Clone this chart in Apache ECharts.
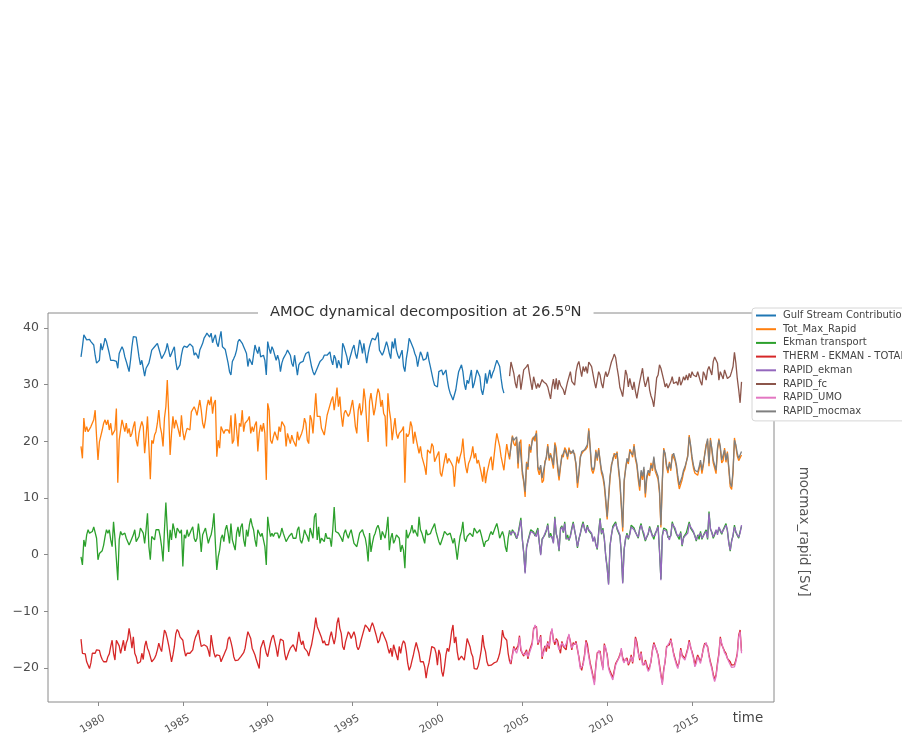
<!DOCTYPE html>
<html>
<head>
<meta charset="utf-8">
<title>AMOC dynamical decomposition at 26.5N</title>
<script src="https://cdn.jsdelivr.net/npm/echarts@6/dist/echarts.min.js"></script>
<style>
  html, body { margin: 0; padding: 0; background: #fff; }
  #chart { width: 902px; height: 738px; }
</style>
</head>
<body>
<div id="chart"></div>
<script>
// Monthly series. Model decomposition starts January 1979,
// RAPID array series start April 2004.
const HIST_START = 1979;
const RAPID_START = 2004 + 3 / 12;

const xTickYears = [1980, 1985, 1990, 1995, 2000, 2005, 2010, 2015];
const yTicks = [-20, -10, 0, 10, 20, 30, 40];

const seriesNames = [
  'Gulf Stream Contribution', 'Tot_Max_Rapid', 'Ekman transport',
  'THERM - EKMAN - TOTAL', 'RAPID_ekman', 'RAPID_fc', 'RAPID_UMO', 'RAPID_mocmax'
];

// Gulf Stream contribution, Jan 1979 - Dec 2003
const gulfStream = [
  34.9, 36.7, 38.8, 38.5, 37.9, 37.6, 38.0, 37.6, 37.4, 37.0, 35.2, 33.8,
  33.5, 34.3, 37.3, 36.1, 37.0, 38.2, 37.6, 37.3, 35.5, 34.3, 34.6, 34.3,
  34.6, 34.1, 32.9, 35.5, 36.1, 36.7, 36.1, 34.9, 34.1, 33.2, 32.3, 34.3,
  36.7, 38.5, 38.2, 38.4, 36.7, 34.9, 33.5, 34.3, 34.1, 31.5, 32.9, 33.2,
  33.8, 34.9, 36.1, 36.4, 36.7, 37.0, 37.3, 37.4, 35.5, 34.6, 34.3, 35.5,
  36.1, 37.3, 36.1, 34.9, 35.5, 36.1, 36.7, 34.1, 32.6, 32.3, 33.5, 35.2,
  36.4, 36.8, 37.0, 36.6, 36.4, 37.2, 37.4, 36.7, 35.2, 35.6, 35.2, 34.6,
  36.1, 36.7, 37.3, 38.2, 38.6, 39.1, 39.4, 38.4, 39.1, 37.4, 38.2, 38.8,
  37.3, 36.7, 38.2, 39.4, 36.7, 36.4, 36.2, 36.1, 33.8, 32.3, 31.7, 34.1,
  34.6, 35.2, 36.1, 37.6, 38.0, 38.2, 37.3, 36.7, 36.1, 35.5, 33.2, 34.6,
  34.1, 33.5, 33.2, 37.0, 36.1, 35.5, 36.7, 34.9, 35.1, 35.2, 34.3, 31.7,
  37.6, 36.4, 35.5, 36.7, 36.1, 35.2, 34.3, 35.2, 34.3, 32.3, 33.8, 34.6,
  34.6, 35.5, 36.1, 35.8, 35.2, 33.8, 33.2, 35.2, 33.5, 31.7, 33.5, 33.9,
  33.8, 34.1, 34.9, 35.5, 35.5, 35.8, 35.5, 33.2, 32.3, 31.7, 31.7, 32.9,
  33.5, 34.1, 34.3, 34.6, 35.2, 35.5, 35.2, 35.5, 35.8, 34.3, 33.5, 35.2,
  34.6, 32.9, 34.3, 34.6, 32.9, 37.3, 36.7, 35.8, 34.9, 33.5, 34.6, 35.5,
  36.4, 37.0, 35.5, 34.6, 36.1, 37.9, 37.0, 35.5, 37.3, 35.5, 33.8, 35.5,
  36.7, 37.6, 38.2, 38.4, 37.9, 38.2, 39.2, 36.1, 36.1, 35.2, 35.8, 36.7,
  37.6, 36.7, 35.5, 34.6, 37.6, 36.4, 38.2, 36.1, 35.2, 34.6, 34.3, 36.1,
  33.2, 32.3, 34.6, 36.1, 38.2, 37.6, 37.3, 36.4, 35.5, 34.9, 33.2, 34.6,
  35.8, 35.2, 34.3, 34.1, 34.6, 35.8, 34.3, 33.2, 32.0, 30.8, 29.9, 29.9,
  29.6, 32.3, 32.5, 32.6, 31.7, 31.4, 32.6, 30.8, 29.4, 28.5, 27.9, 27.3,
  27.0, 29.1, 30.8, 32.3, 32.9, 33.5, 32.3, 30.2, 29.1, 30.8, 30.2, 29.9,
  32.6, 29.4, 30.2, 31.4, 32.6, 32.9, 31.4, 29.1, 28.2, 29.6, 32.0, 30.2,
  31.4, 32.6, 31.1, 32.0, 32.6, 33.5, 34.3, 34.6, 33.2, 31.1, 29.4, 28.5
];

// Total maximum overturning, Jan 1979 - Dec 2017
const totMaxRapid = [
  19.1, 17.0, 24.1, 21.7, 22.6, 21.7, 22.0, 22.6, 22.7, 23.8, 25.5, 20.8,
  16.7, 19.9, 19.6, 22.0, 23.2, 23.8, 22.9, 23.8, 22.0, 23.2, 21.1, 21.4,
  22.0, 25.8, 12.7, 20.2, 22.0, 23.8, 24.1, 21.7, 23.2, 21.4, 22.3, 20.8,
  21.4, 22.6, 23.5, 20.2, 19.1, 21.4, 22.6, 23.5, 22.6, 17.9, 20.8, 24.4,
  19.1, 13.3, 20.2, 19.6, 21.1, 21.7, 23.2, 25.5, 22.6, 21.4, 19.1, 24.1,
  26.1, 30.8, 24.9, 17.6, 21.4, 24.4, 22.3, 23.8, 22.9, 22.6, 20.8, 24.6,
  21.7, 20.2, 21.4, 22.3, 22.3, 22.0, 25.2, 24.9, 26.1, 25.5, 24.6, 24.6,
  27.3, 25.5, 23.2, 22.3, 23.8, 26.1, 27.3, 26.4, 27.9, 24.9, 26.7, 27.3,
  17.3, 20.2, 18.8, 22.6, 22.0, 21.4, 22.0, 22.3, 22.0, 21.4, 24.6, 19.6,
  20.2, 24.9, 22.0, 19.1, 23.2, 22.6, 25.5, 21.7, 23.2, 22.9, 23.8, 24.4,
  21.4, 22.6, 21.7, 22.9, 23.5, 18.2, 21.4, 22.9, 21.7, 23.2, 21.4, 13.2,
  26.7, 25.5, 20.2, 19.6, 20.8, 21.7, 22.0, 20.2, 22.6, 21.7, 23.5, 23.2,
  22.6, 19.1, 21.4, 21.7, 19.6, 21.1, 20.2, 19.9, 19.1, 21.7, 20.2, 20.8,
  21.4, 22.3, 24.1, 23.2, 20.2, 19.6, 24.6, 23.8, 21.4, 21.4, 28.5, 24.4,
  24.6, 24.4, 22.3, 22.0, 21.1, 21.4, 24.6, 25.5, 26.4, 27.3, 27.9, 25.5,
  27.3, 29.5, 26.1, 27.9, 24.6, 22.6, 24.9, 25.5, 25.8, 24.4, 24.9, 24.9,
  27.3, 25.2, 22.6, 21.4, 25.5, 26.7, 24.6, 25.5, 29.3, 27.3, 23.2, 19.9,
  27.0, 28.5, 26.7, 24.6, 25.8, 27.9, 29.3, 28.5, 26.1, 27.3, 24.9, 24.4,
  19.1, 28.5, 25.5, 23.8, 20.2, 22.3, 24.1, 21.4, 20.5, 21.4, 21.7, 22.0,
  22.6, 12.7, 21.4, 20.8, 21.4, 23.5, 22.6, 19.6, 21.7, 21.4, 19.1, 17.9,
  19.1, 17.3, 17.6, 15.5, 14.1, 18.5, 18.2, 17.9, 19.6, 19.1, 16.4, 17.0,
  17.3, 18.2, 14.4, 13.8, 13.5, 16.7, 17.9, 16.1, 17.0, 17.3, 16.1, 15.5,
  12.0, 15.5, 17.3, 16.1, 17.3, 18.2, 20.5, 17.3, 15.5, 14.4, 16.1, 16.7,
  17.6, 19.1, 17.0, 17.9, 16.1, 16.7, 17.0, 14.4, 12.9, 15.5, 12.6, 14.4,
  15.5, 16.7, 17.3, 14.9, 17.3, 19.6, 21.4, 20.2, 19.1, 17.3, 16.1, 14.9,
  17.3, 19.5, 18.0, 16.8, 19.3, 21.0, 19.6, 19.2, 20.5, 15.2, 19.6, 20.3,
  14.2, 12.8, 10.2, 16.4, 15.0, 19.5, 18.0, 20.4, 20.8, 20.0, 21.9, 15.0,
  14.1, 15.5, 12.7, 13.1, 16.5, 17.0, 19.5, 16.6, 17.9, 16.5, 15.2, 19.8,
  18.8, 15.0, 13.1, 15.4, 17.6, 17.2, 18.9, 18.4, 16.8, 18.9, 17.8, 18.2,
  18.1, 17.8, 15.5, 11.8, 14.0, 17.3, 17.8, 18.2, 18.1, 18.6, 19.0, 22.3,
  18.7, 15.0, 14.3, 15.2, 18.5, 16.6, 18.8, 16.3, 14.4, 13.6, 12.0, 9.2,
  6.2, 9.8, 13.3, 15.9, 16.6, 17.9, 16.9, 18.2, 15.0, 12.6, 8.5, 4.1,
  12.6, 15.3, 16.6, 16.0, 18.6, 18.1, 17.2, 19.5, 16.8, 15.7, 13.2, 11.3,
  14.5, 13.2, 15.1, 10.1, 13.4, 14.5, 13.9, 16.2, 14.8, 17.0, 14.7, 14.5,
  13.3, 10.9, 4.8, 12.7, 18.8, 17.5, 15.4, 14.4, 16.4, 14.8, 17.7, 17.5,
  16.6, 15.3, 13.1, 11.6, 11.3, 13.2, 14.5, 15.1, 14.8, 17.6, 21.1, 19.0,
  16.8, 15.3, 14.4, 14.2, 14.0, 15.1, 16.3, 14.3, 15.7, 17.9, 19.5, 20.1,
  15.6, 20.6, 18.4, 16.2, 15.3, 14.3, 18.4, 20.5, 18.7, 16.2, 16.6, 18.8,
  16.3, 18.2, 15.0, 12.0, 11.5, 14.4, 20.6, 19.0, 17.4, 16.6, 16.8, 17.6
];

// Ekman transport, Jan 1979 - Dec 2017
const ekmanTransport = [
  -0.4, -1.8, 2.6, 1.4, 3.5, 4.4, 3.8, 3.6, 4.1, 4.9, 5.2, 2.9,
  -0.9, 0.2, 0.5, 0.7, 1.7, 3.2, 4.4, 3.8, 4.4, 2.6, 1.4, 5.8,
  2.9, 2.6, -4.5, 2.6, 4.1, 3.5, 3.2, 3.8, 2.9, 2.9, 1.7, 2.3,
  2.9, 3.5, 4.4, 2.3, 2.0, 3.2, 4.7, 4.9, 3.8, 2.0, 4.4, 7.3,
  1.4, -0.9, 3.2, 3.5, 2.6, 4.4, 4.1, 4.4, 3.2, 1.4, -1.2, 4.4,
  9.2, 4.4, 0.5, 4.4, 2.6, 5.5, 4.4, 2.9, 4.7, 4.4, 3.8, 4.4,
  -2.1, 3.5, 2.9, 4.4, 3.2, 3.8, 4.4, 4.9, 2.9, 2.3, 2.9, 5.5,
  3.5, 0.5, 3.5, 3.8, 4.7, 4.4, 2.0, 2.9, 3.5, 4.9, 7.3, 2.0,
  -2.7, -0.4, 0.8, 2.9, 3.5, 2.3, 4.4, 5.2, 3.8, 2.0, 5.5, 2.6,
  1.7, 0.8, 3.8, 4.9, 3.2, 4.9, 5.5, 2.6, 1.4, 4.4, 3.2, 5.2,
  6.4, 5.2, 4.4, 2.6, 1.4, 4.4, 4.7, 3.2, 3.8, 3.5, 1.4, -1.8,
  6.7, 4.7, 3.2, 3.8, 3.2, 3.8, 4.1, 3.8, 2.9, 3.5, 4.7, 3.8,
  4.1, 2.3, 2.6, 3.2, 3.5, 3.8, 2.9, 2.6, 2.9, 4.4, 4.9, 2.6,
  2.0, 2.9, 4.4, 3.7, 3.2, 2.3, 4.7, 4.4, 2.9, 6.7, 7.3, 2.6,
  4.9, 2.0, 2.9, 3.2, 2.3, 3.8, 2.9, 3.1, 2.9, 1.4, 4.4, 8.4,
  4.1, 4.4, 3.8, 4.1, 2.9, 2.3, 3.8, 4.4, 3.5, 2.9, 3.8, 4.4,
  4.1, 2.0, 1.7, 1.4, 1.4, 3.8, 4.1, 4.4, 3.5, 2.9, 1.4, -1.2,
  3.8, 0.5, 2.0, 3.2, 3.8, 4.7, 5.2, 4.4, 2.6, 4.1, 3.5, 2.9,
  4.4, 6.7, 0.8, 2.9, 3.8, 2.0, 2.6, 3.5, 3.8, 2.9, 0.5, 1.7,
  0.8, -2.4, 4.4, 2.9, 3.5, 4.1, 5.2, 3.8, 4.4, 3.8, 3.2, 6.7,
  4.4, 3.8, 2.9, 2.0, 4.4, 3.5, 3.2, 3.7, 4.4, 4.9, 5.5, 4.1,
  3.8, 2.3, 1.7, 1.4, 3.2, 4.1, 3.8, 3.5, 3.2, 3.8, 2.9, 2.0,
  2.9, 1.1, -0.9, 1.4, 3.2, 4.1, 5.8, 2.9, 2.3, 3.2, 3.5, 3.8,
  4.1, 3.2, 4.7, 4.9, 3.8, 3.5, 4.4, 3.5, 3.2, 1.4, 2.3, 2.0,
  2.6, 3.5, 4.1, 3.5, 3.2, 4.9, 5.5, 4.4, 2.9, 3.5, 4.1, 3.2,
  1.4, 0.5, 2.9, 4.3, 3.4, 4.4, 4.0, 4.1, 2.8, 3.7, 3.6, 6.5,
  2.7, 0.4, -3.1, 1.2, 2.5, 2.4, 4.4, 4.2, 4.0, 3.3, 3.5, 4.7,
  2.1, 0.1, 2.8, 3.0, 3.5, 4.2, 5.5, 3.0, 3.8, 3.0, 2.2, 6.7,
  3.6, 2.8, 0.6, 4.7, 5.1, 3.9, 5.8, 2.7, 3.5, 2.5, 3.4, 4.7,
  5.8, 4.2, 3.1, 1.2, 2.8, 3.6, 5.0, 5.8, 4.5, 4.0, 5.2, 4.2,
  4.4, 3.6, 2.5, 3.0, 1.9, 0.9, 4.1, 6.4, 3.6, 4.7, 2.7, -0.2,
  -2.2, -5.1, 1.6, 3.3, 5.0, 4.7, 5.8, 4.5, 4.7, 3.3, 0.4, -4.9,
  1.0, 2.7, 3.8, 2.7, 3.8, 5.2, 5.0, 4.7, 4.0, 3.7, 2.9, 4.7,
  5.5, 4.2, 4.0, 2.4, 3.1, 3.6, 5.0, 4.2, 3.4, 2.7, 3.8, 4.2,
  5.2, 0.6, -4.3, 3.4, 4.7, 4.5, 4.4, 3.0, 2.8, 3.3, 5.8, 5.0,
  5.0, 3.6, 3.4, 2.7, 4.1, 1.5, 3.1, 3.1, 3.9, 3.6, 5.8, 4.7,
  4.8, 3.9, 3.4, 2.4, 3.5, 2.7, 4.1, 2.7, 3.4, 3.5, 4.4, 2.7,
  7.6, 4.5, 4.0, 2.9, 3.5, 4.2, 3.8, 4.7, 5.0, 3.6, 4.4, 4.5,
  5.5, 4.2, 2.2, 0.6, 2.5, 3.3, 5.2, 3.9, 3.8, 2.9, 4.1, 5.0
];

// Thermal wind minus Ekman minus total, Jan 1979 - Dec 2017
const thermEkmanTotal = [
  -14.9, -17.4, -17.7, -17.5, -18.9, -19.2, -20.1, -19.1, -17.4, -17.3, -17.4, -16.8,
  -16.5, -16.9, -17.9, -18.5, -18.9, -19.1, -18.9, -18.0, -17.5, -16.2, -15.1, -17.4,
  -18.6, -15.1, -15.4, -16.1, -17.4, -17.7, -15.1, -17.0, -15.6, -14.9, -13.0, -14.5,
  -16.5, -14.5, -17.4, -18.0, -19.2, -19.5, -18.9, -17.4, -18.5, -16.2, -15.2, -16.5,
  -17.1, -18.0, -18.9, -19.2, -18.3, -17.7, -16.8, -15.6, -16.5, -17.1, -15.1, -13.3,
  -13.8, -14.8, -16.0, -17.4, -18.9, -17.7, -16.2, -14.0, -13.2, -13.6, -14.5, -14.3,
  -15.1, -16.8, -17.9, -17.4, -17.1, -17.4, -17.4, -16.8, -15.4, -14.5, -14.0, -13.3,
  -14.9, -16.2, -16.5, -15.9, -15.9, -16.2, -16.9, -18.0, -14.2, -15.9, -17.3, -18.1,
  -17.7, -17.4, -17.8, -18.9, -18.3, -17.7, -17.1, -16.5, -14.9, -14.5, -15.4, -16.5,
  -18.0, -18.7, -18.9, -18.6, -18.3, -18.0, -17.9, -17.3, -16.5, -14.9, -13.6, -13.3,
  -14.8, -16.5, -17.1, -17.7, -18.6, -18.9, -20.1, -16.5, -15.8, -15.1, -15.1, -17.4,
  -18.0, -16.7, -15.5, -14.6, -14.2, -13.9, -16.5, -18.0, -16.2, -14.9, -14.8, -15.2,
  -17.4, -18.6, -18.3, -17.1, -16.5, -16.5, -15.9, -16.5, -17.1, -15.4, -13.6, -15.1,
  -15.9, -15.2, -16.5, -16.2, -17.1, -17.9, -16.8, -15.9, -14.5, -13.0, -11.1, -12.7,
  -13.3, -13.0, -14.6, -15.6, -15.2, -15.9, -16.2, -15.9, -14.5, -13.6, -14.8, -15.8,
  -14.5, -12.1, -11.1, -13.0, -13.9, -16.2, -16.8, -15.4, -14.5, -13.6, -14.0, -14.8,
  -15.1, -13.6, -14.5, -16.2, -16.8, -16.2, -15.1, -14.2, -13.3, -12.4, -12.2, -13.0,
  -13.6, -12.7, -12.0, -12.7, -13.6, -14.5, -15.6, -15.1, -14.0, -13.6, -14.2, -14.8,
  -15.4, -16.5, -17.4, -16.5, -18.0, -15.9, -16.2, -17.7, -18.6, -16.2, -17.4, -15.9,
  -15.2, -15.6, -17.1, -19.2, -20.4, -19.8, -18.7, -17.7, -16.5, -15.5, -15.4, -17.4,
  -18.9, -19.2, -18.9, -19.8, -21.8, -20.1, -19.1, -17.7, -16.2, -15.9, -16.5, -17.4,
  -19.5, -16.8, -17.7, -20.6, -21.5, -19.8, -17.7, -16.5, -17.1, -15.6, -13.6, -12.4,
  -15.6, -14.5, -17.1, -18.6, -18.3, -17.9, -18.0, -18.6, -16.8, -14.8, -15.5, -16.2,
  -17.4, -18.0, -20.1, -19.8, -20.2, -19.5, -18.3, -16.8, -14.2, -16.2, -17.1, -18.9,
  -19.6, -19.3, -19.5, -19.8, -19.1, -19.3, -18.9, -18.3, -17.4, -15.9, -13.3, -14.5,
  -14.2, -15.1, -17.4, -18.8, -19.3, -17.6, -16.2, -16.9, -17.0, -16.1, -14.3, -16.9,
  -17.0, -17.9, -17.3, -16.8, -18.4, -17.0, -17.3, -15.5, -13.0, -12.8, -12.7, -15.9,
  -15.2, -14.2, -18.4, -17.0, -16.1, -17.1, -15.3, -16.6, -13.9, -13.3, -15.0, -15.9,
  -14.8, -15.2, -16.4, -17.4, -15.3, -16.2, -15.9, -16.8, -14.8, -14.3, -15.3, -16.8,
  -15.5, -15.9, -15.3, -16.8, -18.0, -19.7, -20.4, -19.1, -17.7, -15.1, -15.8, -17.6,
  -19.1, -20.2, -21.4, -22.5, -19.5, -17.3, -17.2, -17.0, -18.9, -20.0, -15.7, -16.7,
  -17.6, -19.8, -20.5, -21.1, -21.7, -21.8, -19.2, -19.2, -18.3, -17.6, -16.8, -18.2,
  -18.8, -18.6, -18.2, -19.5, -18.9, -17.7, -19.2, -17.3, -14.5, -15.4, -17.1, -18.6,
  -17.1, -19.1, -19.5, -18.6, -19.4, -20.3, -19.8, -18.9, -16.8, -15.5, -16.2, -16.5,
  -17.7, -19.4, -21.1, -22.6, -20.2, -18.9, -16.2, -16.2, -15.9, -14.8, -16.2, -17.4,
  -18.3, -19.1, -19.8, -18.9, -16.5, -17.7, -18.0, -18.3, -18.6, -16.5, -15.1, -16.4,
  -17.1, -18.0, -19.4, -19.5, -17.7, -18.3, -18.8, -18.0, -16.5, -15.6, -15.8, -16.2,
  -17.7, -18.9, -19.8, -21.1, -22.0, -21.2, -19.1, -17.4, -14.5, -15.9, -16.2, -17.0,
  -17.4, -18.3, -18.6, -18.9, -19.5, -19.8, -19.4, -18.6, -17.4, -14.2, -13.3, -17.0
];

// RAPID array, Apr 2004 - Dec 2017
const rapidEkman = [
  4.1, 3.5, 4.1, 4.1, 3.8, 2.9, 3.5, 3.8, 6.1,
  2.9, 0.2, -3.3, 1.4, 2.3, 2.6, 4.1, 4.4, 3.8, 3.5, 3.2, 4.4,
  2.3, -0.1, 2.6, 3.1, 3.2, 4.4, 5.2, 3.2, 3.5, 3.2, 2.0, 6.4,
  3.8, 2.6, 0.8, 4.4, 4.9, 4.1, 5.5, 2.9, 3.2, 2.7, 3.2, 4.4,
  5.5, 4.4, 2.9, 1.4, 2.6, 3.8, 4.7, 5.5, 4.7, 3.8, 4.9, 4.4,
  4.1, 3.8, 2.3, 3.2, 1.7, 1.1, 3.8, 6.1, 3.8, 4.4, 2.9, -0.4,
  -2.4, -5.3, 1.4, 3.5, 4.7, 4.9, 5.5, 4.7, 4.4, 3.5, 0.2, -5.1,
  0.8, 2.9, 3.5, 2.9, 3.5, 4.9, 5.2, 4.4, 4.2, 3.5, 3.1, 4.4,
  5.2, 4.4, 3.8, 2.6, 2.9, 3.8, 4.7, 4.4, 3.2, 2.9, 3.5, 4.4,
  4.9, 0.8, -4.5, 3.2, 4.4, 4.7, 4.1, 3.2, 2.6, 3.5, 5.5, 5.2,
  4.7, 3.8, 3.2, 2.9, 3.8, 1.7, 2.9, 3.3, 3.6, 3.8, 5.5, 4.9,
  4.5, 4.1, 3.2, 2.6, 3.2, 2.9, 3.8, 2.9, 3.2, 3.7, 4.1, 2.9,
  7.3, 4.7, 3.8, 3.1, 3.2, 4.4, 3.5, 4.9, 4.7, 3.8, 4.1, 4.7,
  5.2, 4.4, 2.0, 0.8, 2.3, 3.5, 4.9, 4.1, 3.5, 3.1, 3.8, 5.2
];

const rapidFc = [
  31.5, 34.0, 34.2, 32.0, 30.3, 29.4, 31.4, 31.8, 29.1,
  30.8, 32.6, 32.9, 33.2, 33.6, 32.0, 30.5, 29.1, 31.4, 31.2, 29.3, 30.2,
  29.5, 30.2, 30.9, 30.5, 30.6, 30.1, 29.6, 28.5, 27.5, 29.6, 31.0, 29.2,
  31.1, 29.1, 30.8, 29.9, 30.0, 29.1, 28.2, 29.4, 30.5, 30.8, 32.3, 30.6,
  30.5, 29.9, 32.3, 33.5, 34.1, 34.4, 31.4, 33.2, 32.3, 33.2, 32.0, 34.0,
  34.1, 33.2, 33.5, 30.5, 29.4, 30.8, 32.3, 31.7, 30.2, 29.4, 31.2, 32.3,
  31.4, 32.0, 33.0, 34.0, 34.6, 35.4, 34.8, 33.0, 31.5, 29.5, 28.8, 27.9,
  30.2, 32.6, 31.7, 29.6, 31.1, 29.9, 29.1, 30.5, 28.8, 27.6, 29.1, 30.5,
  31.7, 32.9, 30.8, 29.6, 29.9, 31.4, 29.1, 28.0, 27.3, 26.1, 28.5, 31.2,
  31.7, 33.5, 32.9, 33.2, 30.8, 29.6, 30.2, 29.4, 29.1, 30.5, 31.4, 30.2,
  29.9, 30.5, 29.9, 31.4, 29.9, 30.5, 31.4, 30.8, 31.7, 30.8, 32.0, 31.2,
  32.3, 31.7, 32.0, 31.4, 32.3, 31.4, 30.5, 29.9, 32.3, 31.7, 30.8, 32.6,
  33.2, 33.5, 31.7, 34.1, 34.9, 34.6, 33.8, 30.8, 32.3, 32.0, 31.0, 32.6,
  32.6, 31.1, 31.1, 31.5, 32.3, 33.2, 35.7, 33.8, 31.1, 29.1, 26.8, 30.5
];

const rapidUmo = [
  -19.2, -18.9, -18.0, -16.5, -16.5, -17.4, -16.5, -14.6, -16.5,
  -17.4, -17.5, -17.7, -17.1, -18.0, -17.4, -17.7, -15.9, -13.3, -12.4, -13.0, -15.6,
  -15.6, -14.5, -18.0, -17.4, -16.5, -16.8, -15.6, -16.2, -14.2, -13.0, -15.4, -15.6,
  -15.1, -14.9, -16.8, -17.1, -15.6, -15.9, -16.3, -16.5, -15.1, -14.0, -15.6, -16.5,
  -15.9, -15.6, -15.6, -16.5, -18.3, -20.1, -20.1, -19.5, -18.0, -15.4, -15.4, -18.0,
  -19.5, -20.6, -21.8, -23.0, -19.8, -17.7, -16.9, -17.4, -18.6, -20.4, -16.0, -16.4,
  -18.0, -20.1, -20.9, -20.8, -22.1, -22.1, -19.5, -18.9, -18.6, -17.9, -16.5, -18.6,
  -19.1, -18.3, -18.6, -19.2, -19.2, -18.0, -18.9, -17.7, -14.8, -15.1, -17.4, -18.3,
  -17.4, -19.5, -19.2, -18.9, -19.8, -20.6, -20.2, -18.6, -17.1, -15.8, -15.9, -16.8,
  -18.0, -19.8, -21.5, -23.0, -20.6, -18.6, -16.5, -15.9, -16.2, -15.1, -15.9, -17.7,
  -18.6, -19.5, -20.1, -18.6, -16.8, -18.0, -17.7, -18.6, -18.3, -16.8, -15.4, -16.1,
  -17.4, -18.3, -19.8, -19.2, -18.0, -18.6, -19.2, -17.7, -16.8, -15.9, -15.5, -16.5,
  -18.0, -19.2, -20.1, -21.5, -22.4, -21.5, -19.5, -17.7, -14.8, -15.6, -16.5, -17.3,
  -17.7, -18.0, -18.9, -19.2, -19.9, -20.2, -19.8, -18.9, -17.7, -14.5, -13.6, -17.4
];

const rapidMocmax = [
  17.3, 19.0, 20.8, 20.2, 19.9, 20.8, 16.1, 19.9, 19.9,
  14.9, 13.2, 11.1, 16.1, 15.5, 19.1, 18.5, 20.0, 20.5, 20.5, 21.4, 15.5,
  14.9, 15.8, 13.5, 13.8, 16.1, 17.3, 19.1, 17.0, 17.6, 17.0, 15.8, 19.4,
  19.1, 15.8, 13.8, 15.8, 17.3, 17.6, 18.5, 18.8, 17.3, 18.5, 18.2, 17.9,
  18.5, 18.2, 16.1, 12.6, 14.4, 17.0, 18.2, 17.9, 18.5, 18.2, 19.4, 21.9,
  19.1, 15.5, 14.9, 15.5, 18.2, 17.0, 18.5, 16.7, 14.9, 14.1, 12.6, 9.9,
  6.7, 10.2, 13.8, 15.5, 17.0, 17.6, 17.3, 17.9, 15.5, 13.2, 9.0, 4.8,
  13.2, 14.9, 17.0, 16.4, 18.2, 18.5, 17.6, 19.1, 17.3, 16.1, 13.8, 12.0,
  14.9, 13.8, 15.5, 10.8, 13.8, 14.9, 14.4, 15.8, 15.2, 17.3, 15.2, 14.9,
  13.8, 11.4, 5.2, 13.2, 18.5, 17.9, 15.8, 14.9, 16.1, 15.2, 17.3, 17.9,
  17.0, 15.8, 13.8, 12.3, 12.0, 13.8, 14.9, 15.5, 15.2, 17.3, 20.8, 19.4,
  17.3, 15.8, 14.9, 14.9, 14.6, 15.5, 16.7, 14.9, 16.1, 17.6, 19.1, 20.5,
  16.1, 20.2, 18.8, 16.7, 15.8, 14.9, 18.8, 20.2, 19.1, 16.7, 17.0, 18.5,
  16.7, 17.9, 15.5, 12.6, 12.0, 14.9, 20.2, 19.4, 17.9, 17.0, 17.3, 18.2
];

const seriesColors = ['#1f77b4', '#ff7f0e', '#2ca02c', '#d62728', '#9467bd', '#8c564b', '#e377c2', '#7f7f7f'];

// [decimal year, value] pairs for monthly records
function monthly(start, values) {
  return values.map((v, i) => [start + i / 12, v]);
}

const seriesData = [
  monthly(HIST_START, gulfStream),
  monthly(HIST_START, totMaxRapid),
  monthly(HIST_START, ekmanTransport),
  monthly(HIST_START, thermEkmanTotal),
  monthly(RAPID_START, rapidEkman),
  monthly(RAPID_START, rapidFc),
  monthly(RAPID_START, rapidUmo),
  monthly(RAPID_START, rapidMocmax)
];

const FONT = '"DejaVu Sans", "Liberation Sans", sans-serif';

const chart = echarts.init(document.getElementById('chart'), null, { renderer: 'canvas' });

chart.setOption({
  animation: false,
  textStyle: { fontFamily: FONT },
  title: {
    text: '{t|AMOC dynamical decomposition at 26.5}{s|o}{t|N}',
    left: 258,
    top: 301,
    padding: [2, 12, 2, 12],
    backgroundColor: '#ffffff',
    textStyle: {
      fontWeight: 'normal',
      rich: {
        t: { fontSize: 14.7, fontWeight: 'normal', color: '#333333', fontFamily: FONT, lineHeight: 18 },
        s: { fontSize: 10, fontWeight: 'normal', color: '#333333', fontFamily: FONT, verticalAlign: 'top', lineHeight: 12 }
      }
    }
  },
  legend: {
    orient: 'vertical',
    left: 752,
    top: 308,
    padding: [2.5, 8, 4.5, 3],
    itemWidth: 20,
    itemHeight: 9,
    itemGap: 3.7,
    backgroundColor: '#ffffff',
    borderColor: '#d6d6d6',
    borderWidth: 1,
    borderRadius: 3,
    itemStyle: { opacity: 0 },
    lineStyle: { width: 2 },
    textStyle: { fontSize: 10, color: '#444444', fontFamily: FONT, lineHeight: 9, padding: [0, 0, 0, 2] },
    data: seriesNames
  },
  grid: {
    left: 48,
    right: 128,
    top: 313,
    bottom: 36,
    show: true,
    borderColor: '#8a8a8a',
    borderWidth: 1,
    backgroundColor: 'transparent'
  },
  xAxis: {
    type: 'value',
    min: 1977.055,
    max: 2019.83,
    axisLine: { show: false, onZero: false },
    splitLine: { show: false },
    axisTick: {
      show: true,
      customValues: xTickYears,
      length: 4,
      lineStyle: { color: '#8a8a8a' }
    },
    axisLabel: {
      customValues: xTickYears,
      rotate: 30,
      fontSize: 10.5,
      color: '#555555',
      margin: 19,
      padding: [0, -7, 0, 0],
      formatter: v => String(v)
    }
  },
  yAxis: {
    type: 'value',
    min: -26.0,
    max: 42.65,
    axisLine: { show: false, onZero: false },
    splitLine: { show: false },
    axisTick: {
      show: true,
      customValues: yTicks,
      length: 4,
      lineStyle: { color: '#8a8a8a' }
    },
    axisLabel: {
      customValues: yTicks,
      fontSize: 12.5,
      color: '#4d4d4d',
      margin: 9,
      formatter: v => String(v).replace('-', '\u2212')
    }
  },
  graphic: [
    {
      type: 'text',
      x: 803,
      y: 531.7,
      rotation: -Math.PI / 2,
      style: {
        text: 'mocmax_rapid [Sv]',
        fontSize: 13.4,
        fontFamily: FONT,
        fill: '#555555',
        align: 'center',
        verticalAlign: 'middle'
      }
    },
    {
      type: 'text',
      x: 748,
      y: 719,
      style: {
        text: 'time',
        fontSize: 13.4,
        fontFamily: FONT,
        fill: '#444444',
        align: 'center',
        verticalAlign: 'middle'
      }
    }
  ],
  series: seriesNames.map((name, i) => ({
    name: name,
    type: 'line',
    data: seriesData[i],
    symbol: 'none',
    showSymbol: false,
    silent: true,
    color: seriesColors[i],
    lineStyle: { width: 1.3, color: seriesColors[i] }
  }))
});
</script>
</body>
</html>
